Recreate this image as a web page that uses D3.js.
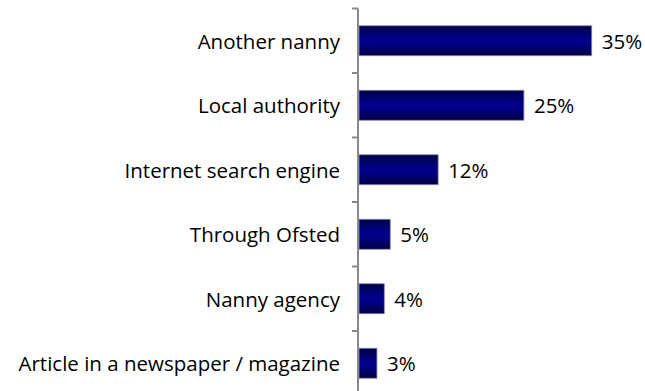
<!DOCTYPE html>
<html><head><meta charset="utf-8">
<script src="https://cdn.jsdelivr.net/npm/d3@7/dist/d3.min.js"></script>
<style>html,body{margin:0;padding:0;background:#fff;}svg{display:block;}</style>
</head><body>
<svg id="chart" width="645" height="391"></svg>
<script>
const categories = ["Another nanny","Local authority","Internet search engine","Through Ofsted","Nanny agency","Article in a newspaper / magazine"];
const values = [35, 24.8, 11.9, 4.7, 3.8, 2.7];
const valueLabels = ["35%","25%","12%","5%","4%","3%"];

const svg = d3.select("#chart");
const axisX = 358;
const x = d3.scaleLinear().domain([0, 40]).range([axisX + 1, 625]);
const y = d3.scaleBand().domain(categories).range([8.5, 8.5 + 6 * 64.5]).padding(0);
const barH = y.bandwidth() * 0.465;
const font = "'Open Sans', sans-serif";
const fs = 20.5;

const defs = svg.append("defs");
const g = defs.append("linearGradient").attr("id","barGrad").attr("x1",0).attr("y1",0).attr("x2",0).attr("y2",1);
g.append("stop").attr("offset","0%").attr("stop-color","#000045");
g.append("stop").attr("offset","45%").attr("stop-color","#00008c");
g.append("stop").attr("offset","60%").attr("stop-color","#000088");
g.append("stop").attr("offset","100%").attr("stop-color","#000040");

svg.selectAll("rect.bar").data(categories).enter().append("rect")
  .attr("class","bar")
  .attr("x", x(0))
  .attr("y", (d) => y(d) + (y.bandwidth() - barH) / 2)
  .attr("width", (d, i) => x(values[i]) - x(0))
  .attr("height", barH)
  .attr("fill","url(#barGrad)")
  .attr("stroke","#8a8ab8").attr("stroke-width",0.8);

svg.append("line").attr("x1",axisX).attr("x2",axisX).attr("y1",y.range()[0]).attr("y2",y.range()[1])
  .attr("stroke","#888").attr("stroke-width",2);
const bounds = categories.map(c => y(c)).concat([y.range()[1]]);
svg.selectAll("line.tick").data(bounds).enter().append("line")
  .attr("class","tick").attr("x1",axisX - 6).attr("x2",axisX)
  .attr("y1",d => d).attr("y2",d => d).attr("stroke","#888").attr("stroke-width",2);

svg.selectAll("text.cat").data(categories).enter().append("text")
  .attr("class","cat")
  .attr("x", axisX - 18)
  .attr("y", d => y(d) + y.bandwidth() / 2 + 1)
  .attr("dy","0.35em")
  .attr("text-anchor","end")
  .attr("font-family", font).attr("font-size", fs).attr("fill","#000")
  .text(d => d);

svg.selectAll("text.val").data(categories).enter().append("text")
  .attr("class","val")
  .attr("x", (d, i) => x(values[i]) + 10)
  .attr("y", d => y(d) + y.bandwidth() / 2 + 1)
  .attr("dy","0.35em")
  .attr("font-family", font).attr("font-size", fs).attr("fill","#000")
  .text((d, i) => valueLabels[i]);
</script>
</body></html>
